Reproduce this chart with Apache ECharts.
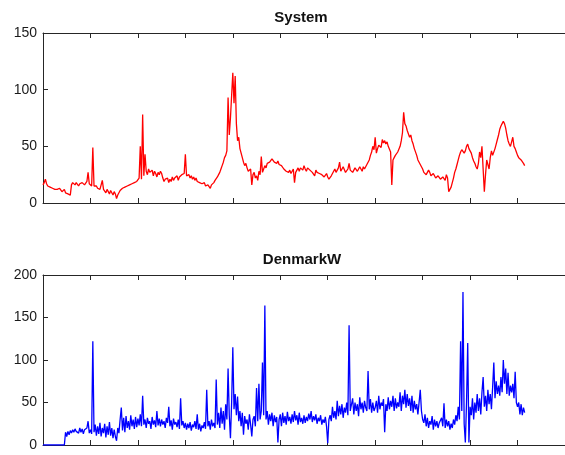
<!DOCTYPE html>
<html>
<head>
<meta charset="utf-8">
<script src="https://cdn.jsdelivr.net/npm/echarts@6/dist/echarts.min.js"></script>
<style>
  html, body { margin: 0; padding: 0; background: #ffffff; }
  #chart { width: 565px; height: 455px; }
</style>
</head>
<body>
<div id="chart"></div>
<script>
// Samples are evenly spaced along the x axis.
const sampleStep = 25;

// Upper panel: system price series.
const systemValues = [
  16, 18, 21, 17, 15, 16, 14, 15, 13, 14, 12, 13, 12, 11, 13, 12, 10, 11, 12, 9,
  10, 8, 9, 7, 16, 18, 17, 16, 18, 17, 15, 17, 16, 18, 17, 16, 17, 19, 27, 17,
  16, 15, 49, 15, 14, 15, 13, 14, 12, 13, 20, 12, 11, 9, 12, 10, 8, 11, 9, 7,
  10, 8, 4, 7, 9, 11, 10, 13, 12, 14, 13, 15, 14, 16, 15, 17, 16, 18, 17, 19,
  18, 22, 50, 21, 78, 24, 43, 28, 25, 30, 27, 26, 29, 24, 28, 26, 23, 27, 25, 28,
  26, 22, 19, 21, 20, 22, 18, 21, 19, 23, 20, 22, 21, 24, 20, 23, 22, 25, 24, 26,
  43, 24, 23, 25, 22, 24, 21, 23, 20, 22, 19, 20, 18, 19, 17, 16, 18, 15, 14, 16,
  15, 13, 16, 17, 18, 20, 21, 23, 25, 27, 30, 33, 36, 40, 42, 46, 93, 60, 75, 95,
  115, 88, 112, 70, 55, 58, 48, 44, 40, 36, 33, 35, 31, 28, 27, 30, 16, 25, 27, 22,
  24, 20, 28, 25, 41, 27, 30, 33, 31, 35, 34, 36, 37, 39, 38, 36, 37, 35, 37, 34,
  34, 33, 32, 30, 31, 28, 29, 27, 29, 26, 28, 30, 18, 27, 29, 31, 28, 31, 30, 29,
  33, 30, 28, 31, 32, 29, 30, 27, 26, 24, 29, 27, 28, 26, 27, 25, 25, 23, 24, 26,
  23, 21, 22, 24, 26, 28, 30, 27, 28, 31, 36, 28, 29, 32, 31, 27, 27, 30, 35, 29,
  30, 27, 28, 31, 31, 28, 29, 32, 30, 28, 32, 30, 31, 34, 36, 38, 42, 45, 50, 47,
  58, 44, 48, 51, 52, 49, 56, 53, 55, 52, 54, 50, 50, 45, 16, 38, 40, 42, 43, 45,
  46, 50, 55, 62, 80, 70, 68, 64, 64, 58, 60, 55, 52, 48, 47, 42, 38, 36, 34, 32,
  30, 27, 28, 25, 26, 29, 27, 24, 24, 26, 25, 22, 22, 24, 24, 21, 21, 23, 23, 20,
  25, 22, 10, 12, 14, 18, 22, 27, 30, 34, 38, 42, 45, 47, 48, 44, 46, 50, 52, 48,
  47, 44, 40, 37, 35, 32, 30, 35, 45, 40, 50, 30, 10, 25, 38, 34, 30, 40, 46, 42,
  42, 48, 52, 56, 60, 65, 68, 70, 72, 70, 66, 60, 55, 52, 50, 54, 58, 50, 48, 45,
  42, 40, 39, 38, 37, 35, 33
];

// Lower panel: DenmarkW price series.
const denmarkWValues = [
  0, 0, 0, 0, 0, 0, 0, 0, 0, 0, 0, 0, 0, 0, 0, 0, 0, 0, 0, 15,
  10, 16, 12, 17, 14, 18, 15, 19, 16, 18, 14, 20, 15, 19, 13, 18, 16, 20, 28, 14,
  18, 13, 122, 15, 24, 11, 22, 13, 26, 10, 20, 14, 25, 9, 22, 12, 27, 11, 20, 8,
  18, 10, 5, 20, 14, 30, 44, 17, 32, 15, 34, 20, 28, 18, 35, 22, 30, 19, 33, 21,
  31, 23, 36, 22, 58, 24, 30, 20, 32, 25, 28, 19, 33, 24, 29, 21, 40, 23, 31, 22,
  30, 24, 28, 20, 32, 26, 45, 22, 29, 18, 31, 24, 27, 21, 30, 19, 55, 23, 28, 20,
  26, 18, 25, 20, 27, 17, 24, 21, 28, 19, 36, 18, 25, 16, 23, 20, 27, 19, 65, 22,
  28, 18, 30, 22, 26, 20, 77, 24, 38, 20, 44, 25, 40, 18, 48, 30, 90, 35, 8, 50,
  115, 42, 60, 35, 57, 28, 40, 22, 38, 12, 34, 25, 30, 18, 36, 24, 10, 30, 34, 22,
  67, 28, 72, 30, 40, 97, 35, 164, 30, 40, 24, 36, 28, 38, 22, 35, 27, 33, 3, 30,
  36, 22, 38, 26, 34, 24, 39, 28, 33, 25, 36, 27, 40, 29, 35, 24, 38, 27, 32, 25,
  35, 26, 33, 28, 37, 30, 40, 27, 34, 29, 36, 25, 32, 28, 35, 24, 30, 26, 33, 22,
  2, 30, 35, 28, 45, 32, 40, 30, 52, 34, 46, 36, 48, 32, 44, 38, 50, 35, 141, 40,
  38, 55, 36, 50, 40, 48, 34, 56, 42, 50, 38, 52, 44, 40, 87, 42, 54, 38, 50, 40,
  44, 52, 38, 58, 42, 50, 46, 54, 15, 48, 40, 56, 42, 52, 45, 58, 40, 55, 43, 50,
  45, 62, 40, 58, 48, 65, 44, 60, 46, 55, 40, 58, 38, 52, 42, 48, 36, 50, 65, 40,
  30, 26, 36, 22, 32, 20, 28, 24, 34, 18, 30, 22, 28, 20, 26, 24, 32, 22, 49, 20,
  30, 22, 28, 18, 25, 20, 30, 24, 35, 28, 45, 30, 122, 40, 180, 25, 3, 50, 120, 3,
  45, 35, 55, 30, 50, 38, 60, 40, 55, 36, 62, 80, 45, 58, 40, 65, 48, 60, 42, 68,
  97, 55, 75, 60, 70, 58, 80, 62, 100, 72, 90, 60, 85, 58, 70, 62, 72, 55, 86, 50,
  45, 50, 36, 48, 35, 44, 38
];

// Axis ranges and tick spacing.
const xRange = { min: 0, max: 11000, interval: 1000 };
const systemRange = { min: 0, max: 150, interval: 50 };
const denmarkWRange = { min: 0, max: 200, interval: 50 };

const titles = ['System', 'DenmarkW'];

const toPoints = values => values.map((v, i) => [i * sampleStep, v]);

const axisColor = '#262626';
const labelFont = 'Liberation Sans, Arial, Helvetica, sans-serif';

function frameX(gridIndex, position) {
  return {
    type: 'value',
    gridIndex: gridIndex,
    position: position,
    min: xRange.min,
    max: xRange.max,
    interval: xRange.interval,
    axisLine: { show: true, onZero: false, lineStyle: { color: axisColor, width: 1 } },
    axisTick: { show: true, inside: true, length: 5, lineStyle: { color: axisColor, width: 1 } },
    axisLabel: { show: false },
    splitLine: { show: false }
  };
}

function frameY(gridIndex, range) {
  return {
    type: 'value',
    gridIndex: gridIndex,
    min: range.min,
    max: range.max,
    interval: range.interval,
    axisLine: { show: true, lineStyle: { color: axisColor, width: 1 } },
    axisTick: { show: true, inside: true, length: 5, lineStyle: { color: axisColor, width: 1 } },
    axisLabel: { show: true, margin: 6, color: '#1a1a1a', fontSize: 14, fontFamily: labelFont },
    splitLine: { show: false }
  };
}

const titleStyle = { fontSize: 15, fontWeight: 'bold', color: '#111', fontFamily: labelFont };

const chart = echarts.init(document.getElementById('chart'), null, { renderer: 'canvas' });

chart.setOption({
  animation: false,
  backgroundColor: '#ffffff',
  title: [
    { text: titles[0], left: 296, top: 5, textAlign: 'center', textStyle: titleStyle },
    { text: titles[1], left: 297, top: 247, textAlign: 'center', textStyle: titleStyle }
  ],
  grid: [
    { left: 43, top: 33, width: 529, height: 170 },
    { left: 43, top: 275, width: 529, height: 170 }
  ],
  xAxis: [
    frameX(0, 'bottom'),
    frameX(0, 'top'),
    frameX(1, 'bottom'),
    frameX(1, 'top')
  ],
  yAxis: [
    frameY(0, systemRange),
    frameY(1, denmarkWRange)
  ],
  series: [
    {
      name: titles[0],
      type: 'line',
      xAxisIndex: 0,
      yAxisIndex: 0,
      data: toPoints(systemValues),
      showSymbol: false,
      sampling: null,
      lineStyle: { color: '#ff0000', width: 1.3 },
      itemStyle: { color: '#ff0000' }
    },
    {
      name: titles[1],
      type: 'line',
      xAxisIndex: 2,
      yAxisIndex: 1,
      data: toPoints(denmarkWValues),
      showSymbol: false,
      sampling: null,
      lineStyle: { color: '#0000ff', width: 1.3 },
      itemStyle: { color: '#0000ff' }
    }
  ]
});
</script>
</body>
</html>
